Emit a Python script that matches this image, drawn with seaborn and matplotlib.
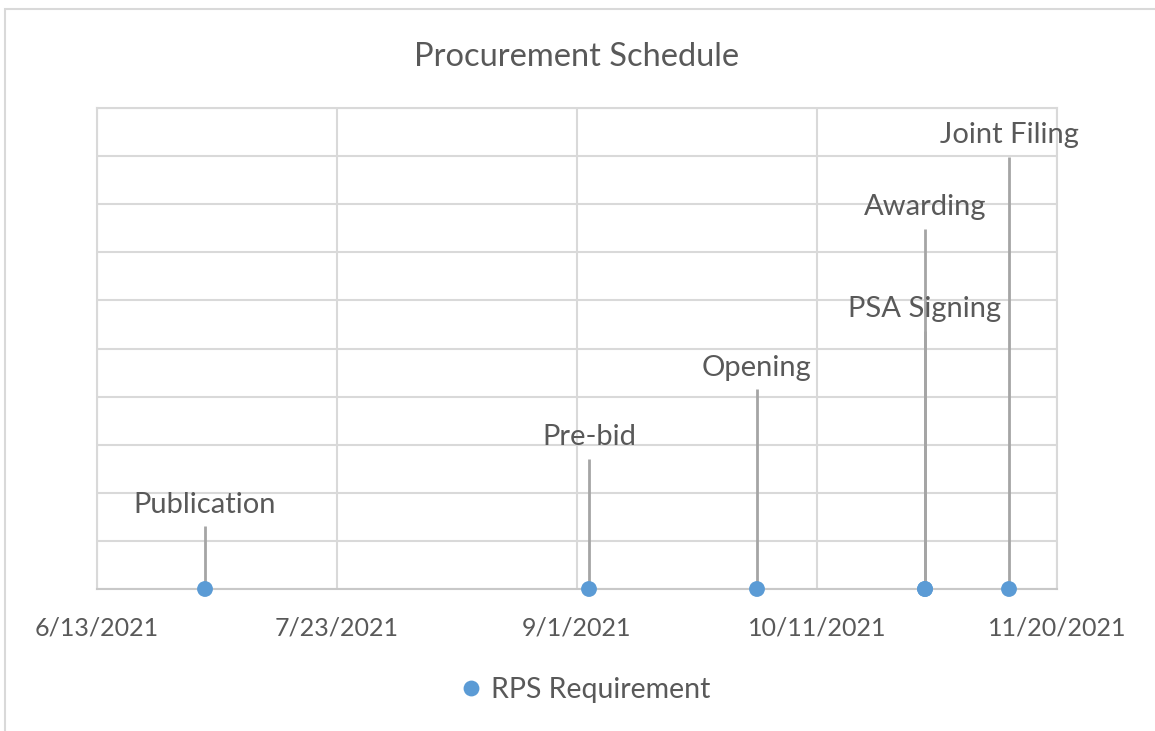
import matplotlib
matplotlib.use("Agg")
import matplotlib.pyplot as plt
import matplotlib.dates as mdates
import matplotlib.patches as patches
import pandas as pd
import seaborn as sns

sns.set_style("white")
plt.rcParams['font.family'] = ['Lato', 'DejaVu Sans']

# data
milestones = ["Publication", "Pre-bid", "Opening", "PSA Signing", "Awarding", "Joint Filing"]
dates = ["2021-07-01", "2021-09-03", "2021-10-01", "2021-10-29", "2021-10-29", "2021-11-12"]
label_height = [1.75, 3.16, 4.6, 5.82, 7.94, 9.44]
point_value = [0, 0, 0, 0, 0, 0]

df = pd.DataFrame({"milestone": milestones, "date": pd.to_datetime(dates),
                   "height": label_height, "value": point_value,
                   "series": "RPS Requirement"})

text_col = "#595959"
grid_col = "#d9d9d9"
dot_col = "#5b9bd5"
stem_col = "#a5a5a5"

fig = plt.figure(figsize=(11.55, 7.31), dpi=100)
ax = fig.add_axes([97 / 1155, 1 - 589 / 731, 960 / 1155, 481 / 731])

# leader lines
ax.vlines(df["date"], df["value"], df["height"] - 0.45, color=stem_col, lw=2, zorder=2)
sns.scatterplot(data=df, x="date", y="value", hue="series", palette=[dot_col],
                s=130, edgecolor="none", ax=ax, zorder=3, clip_on=False)
for _, r in df.iterrows():
    ax.text(r["date"], r["height"], r["milestone"], ha="center", va="center",
            fontsize=21, color=text_col, zorder=4)

start = pd.Timestamp("2021-06-13")
ticks = [start + pd.Timedelta(days=40 * i) for i in range(5)]
ax.set_xlim(ticks[0], ticks[-1])
ax.set_ylim(0, 10)
ax.set_xticks(ticks)
ax.xaxis.set_major_formatter(plt.FuncFormatter(
    lambda v, p: (lambda d: f"{d.month}/{d.day}/{d.year}")(mdates.num2date(v))))
ax.set_yticks(range(0, 11))
ax.set_yticklabels([])
ax.tick_params(axis="x", length=0, pad=20, labelsize=18, labelcolor=text_col)
ax.tick_params(axis="y", length=0)
ax.grid(True, color=grid_col, lw=1.5)
ax.set_axisbelow(True)
for s in ax.spines.values():
    s.set_color(grid_col)
    s.set_linewidth(1.5)
ax.spines["bottom"].set_color("#c8c8c8")
ax.set_xlabel("")
ax.set_ylabel("")

ax.set_title("Procurement Schedule", fontsize=23.5, color=text_col, pad=30)

leg = ax.legend(loc="center", bbox_to_anchor=(0.507, -0.21), frameon=False,
                fontsize=20.5, handlelength=1.0, handletextpad=0.2, markerscale=1.0)
for t in leg.get_texts():
    t.set_color(text_col)

# outer chart border
fig.patches.append(patches.Rectangle((5 / 1155, -0.1), 1.2, 1 - 9 / 731 + 0.1,
                                     transform=fig.transFigure, fill=False,
                                     edgecolor=grid_col, lw=1.5))

fig.savefig("out.png", dpi=100)
